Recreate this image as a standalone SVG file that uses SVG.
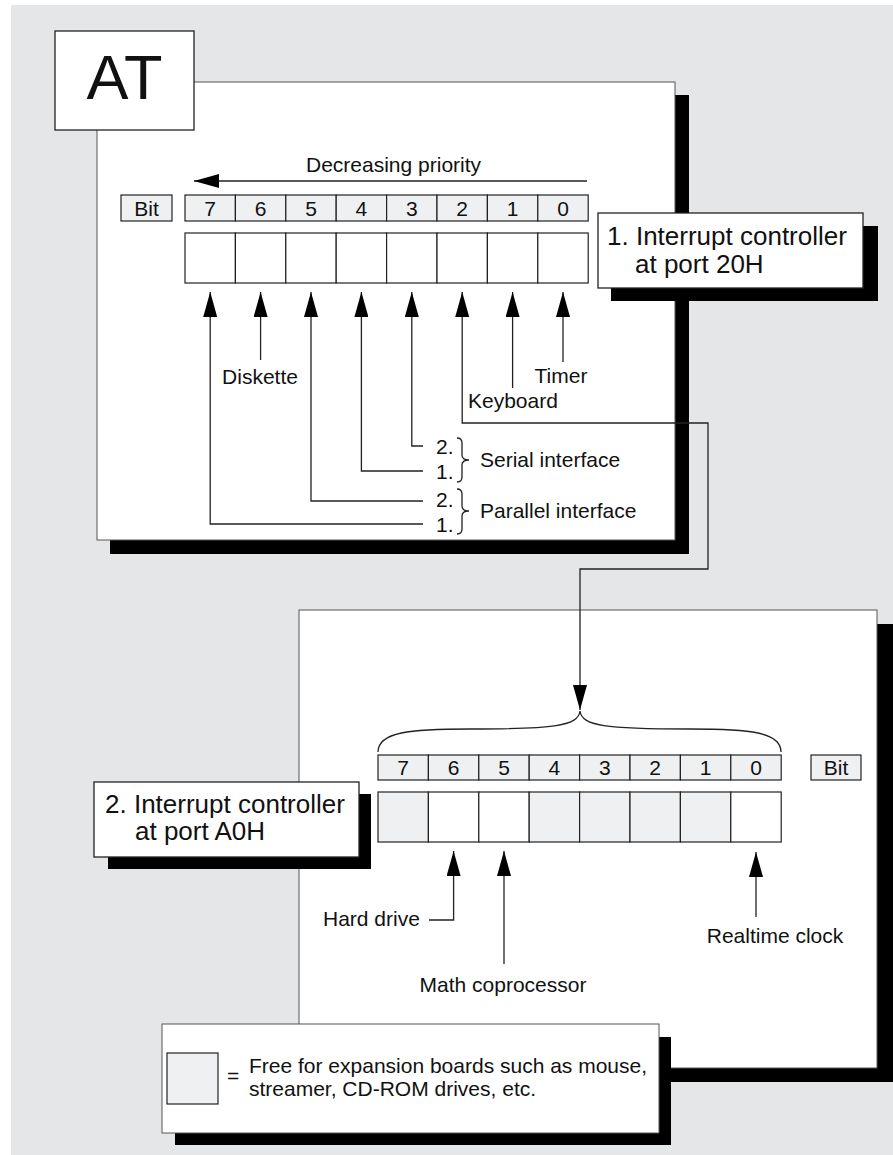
<svg xmlns="http://www.w3.org/2000/svg" width="893" height="1155" viewBox="0 0 893 1155">
<defs>
<style>
.bg{fill:#e5e6e8}
.panel{fill:#fff;stroke:#555;stroke-width:1}
.shadow{fill:#000}
.box{fill:#fff;stroke:#222;stroke-width:1.3}
.cell{fill:#fff;stroke:#222;stroke-width:1.2}
.cellg{fill:#eff0f2;stroke:#222;stroke-width:1.2}
.wire{fill:none;stroke:#222;stroke-width:1.3}
.t{font-family:"Liberation Sans",Arial,sans-serif;font-size:21px;fill:#111}
.tc{text-anchor:middle}
.big{font-size:26px}
.huge{font-size:63px}
</style>
<marker id="ah" markerUnits="userSpaceOnUse" markerWidth="26" markerHeight="14" refX="25" refY="7" orient="auto-start-reverse">
<path d="M0,0 L25,7 L0,14 z" fill="#000"/>
</marker>
</defs>

<rect class="bg" x="11" y="5" width="882" height="1150"/>

<g id="panel-at">
<rect class="shadow" x="110" y="95" width="579" height="459"/>
<rect class="panel" x="97" y="82" width="578" height="458"/>
</g>
<g id="at-title">
<rect class="box" x="55" y="31" width="139" height="99"/>
<text class="t tc huge" x="124.5" y="99">AT</text>
</g>

<g id="panel-a0">
<rect class="shadow" x="313" y="624" width="580" height="458"/>
<rect class="panel" x="299" y="610" width="578" height="458"/>
</g>

<g id="legend">
<rect class="shadow" x="175" y="1037" width="496" height="108"/>
<rect class="panel" x="162" y="1024" width="497" height="109"/>
<rect class="cellg" x="167" y="1053" width="51" height="51"/>
<text class="t" x="227" y="1083">=</text>
<text class="t" x="249" y="1073">Free for expansion boards such as mouse,</text>
<text class="t" x="249" y="1096">streamer, CD-ROM drives, etc.</text>
</g>

<g id="label-20h">
<rect class="shadow" x="611" y="226" width="267" height="75"/>
<rect class="box" x="598" y="213" width="265" height="75"/>
<text class="t big" x="607" y="245">1. Interrupt controller</text>
<text class="t big" x="635" y="273">at port 20H</text>
</g>

<g id="label-a0h">
<rect class="shadow" x="108" y="794" width="263" height="75"/>
<rect class="box" x="94" y="782" width="265" height="75"/>
<text class="t big" x="105" y="813">2. Interrupt controller</text>
<text class="t big" x="135" y="840">at port A0H</text>
</g>

<g id="priority">
<text class="t" x="306" y="172">Decreasing priority</text>
</g>

<g id="bits-20h">
<rect class="cellg" x="121" y="195" width="51" height="26"/>
<text class="t tc" x="146.5" y="216">Bit</text>
<rect class="cellg" x="185" y="195" width="50.4" height="26"/>
<rect class="cellg" x="235.4" y="195" width="50.4" height="26"/>
<rect class="cellg" x="285.8" y="195" width="50.4" height="26"/>
<rect class="cellg" x="336.2" y="195" width="50.4" height="26"/>
<rect class="cellg" x="386.6" y="195" width="50.4" height="26"/>
<rect class="cellg" x="437" y="195" width="50.4" height="26"/>
<rect class="cellg" x="487.4" y="195" width="50.4" height="26"/>
<rect class="cellg" x="537.8" y="195" width="50.4" height="26"/>
<text class="t tc" x="210.2" y="216">7</text>
<text class="t tc" x="260.6" y="216">6</text>
<text class="t tc" x="311" y="216">5</text>
<text class="t tc" x="361.4" y="216">4</text>
<text class="t tc" x="411.8" y="216">3</text>
<text class="t tc" x="462.2" y="216">2</text>
<text class="t tc" x="512.6" y="216">1</text>
<text class="t tc" x="563" y="216">0</text>
</g>

<g id="register-20h">
<rect class="cell" x="185" y="233" width="50.4" height="50"/>
<rect class="cell" x="235.4" y="233" width="50.4" height="50"/>
<rect class="cell" x="285.8" y="233" width="50.4" height="50"/>
<rect class="cell" x="336.2" y="233" width="50.4" height="50"/>
<rect class="cell" x="386.6" y="233" width="50.4" height="50"/>
<rect class="cell" x="437" y="233" width="50.4" height="50"/>
<rect class="cell" x="487.4" y="233" width="50.4" height="50"/>
<rect class="cell" x="537.8" y="233" width="50.4" height="50"/>
</g>

<g id="bits-a0h">
<rect class="cellg" x="378" y="755" width="50.4" height="25"/>
<rect class="cellg" x="428.4" y="755" width="50.4" height="25"/>
<rect class="cellg" x="478.8" y="755" width="50.4" height="25"/>
<rect class="cellg" x="529.2" y="755" width="50.4" height="25"/>
<rect class="cellg" x="579.6" y="755" width="50.4" height="25"/>
<rect class="cellg" x="630" y="755" width="50.4" height="25"/>
<rect class="cellg" x="680.4" y="755" width="50.4" height="25"/>
<rect class="cellg" x="730.8" y="755" width="50.4" height="25"/>
<text class="t tc" x="403.2" y="775">7</text>
<text class="t tc" x="453.6" y="775">6</text>
<text class="t tc" x="504" y="775">5</text>
<text class="t tc" x="554.4" y="775">4</text>
<text class="t tc" x="604.8" y="775">3</text>
<text class="t tc" x="655.2" y="775">2</text>
<text class="t tc" x="705.6" y="775">1</text>
<text class="t tc" x="756" y="775">0</text>
<rect class="cellg" x="811" y="755" width="50" height="25"/>
<text class="t tc" x="836" y="775">Bit</text>
</g>

<g id="register-a0h">
<rect class="cellg" x="378" y="792" width="50.4" height="50"/>
<rect class="cell" x="428.4" y="792" width="50.4" height="50"/>
<rect class="cell" x="478.8" y="792" width="50.4" height="50"/>
<rect class="cellg" x="529.2" y="792" width="50.4" height="50"/>
<rect class="cellg" x="579.6" y="792" width="50.4" height="50"/>
<rect class="cellg" x="630" y="792" width="50.4" height="50"/>
<rect class="cellg" x="680.4" y="792" width="50.4" height="50"/>
<rect class="cell" x="730.8" y="792" width="50.4" height="50"/>
</g>

<g id="source-labels">
<text class="t tc" x="260" y="384">Diskette</text>
<text class="t tc" x="561" y="383">Timer</text>
<text class="t" x="468" y="408">Keyboard</text>
<text class="t" x="436" y="454">2.</text>
<text class="t" x="436" y="479">1.</text>
<text class="t" x="436" y="507">2.</text>
<text class="t" x="436" y="532">1.</text>
<text class="t" x="480" y="467">Serial interface</text>
<text class="t" x="480" y="518">Parallel interface</text>
<text class="t" x="323" y="926">Hard drive</text>
<text class="t tc" x="503" y="992">Math coprocessor</text>
<text class="t tc" x="775" y="943">Realtime clock</text>
</g>

<g id="connectors">
<path class="wire" d="M587,181 H194" marker-end="url(#ah)"/>
<path class="wire" d="M423,524 H210.2 V292" marker-end="url(#ah)"/>
<path class="wire" d="M260.6,360 V292" marker-end="url(#ah)"/>
<path class="wire" d="M423,501 H311 V292" marker-end="url(#ah)"/>
<path class="wire" d="M423,471 H361.4 V292" marker-end="url(#ah)"/>
<path class="wire" d="M423,446 H411.8 V292" marker-end="url(#ah)"/>
<path class="wire" d="M580,710 V569 H708 V423 H462.2 V292" marker-start="url(#ah)" marker-end="url(#ah)"/>
<path class="wire" d="M512.6,388 V292" marker-end="url(#ah)"/>
<path class="wire" d="M563,362 V292" marker-end="url(#ah)"/>
<path class="wire" d="M457,438 q5,0 5,5 v12 q0,5 7,5 q-7,0 -7,5 v12 q0,5 -5,5"/>
<path class="wire" d="M457,489 q5,0 5,5 v12 q0,5 7,5 q-7,0 -7,5 v13 q0,5 -5,5"/>
<path class="wire" d="M378,752 C378,732 410,729 470,729 C555,729 578,726 580,711 C582,726 605,729 690,729 C750,729 781,732 781,752"/>
<path class="wire" d="M429,920 H453.6 V851" marker-end="url(#ah)"/>
<path class="wire" d="M504,964 V851" marker-end="url(#ah)"/>
<path class="wire" d="M756,917 V852" marker-end="url(#ah)"/>
</g>
</svg>
